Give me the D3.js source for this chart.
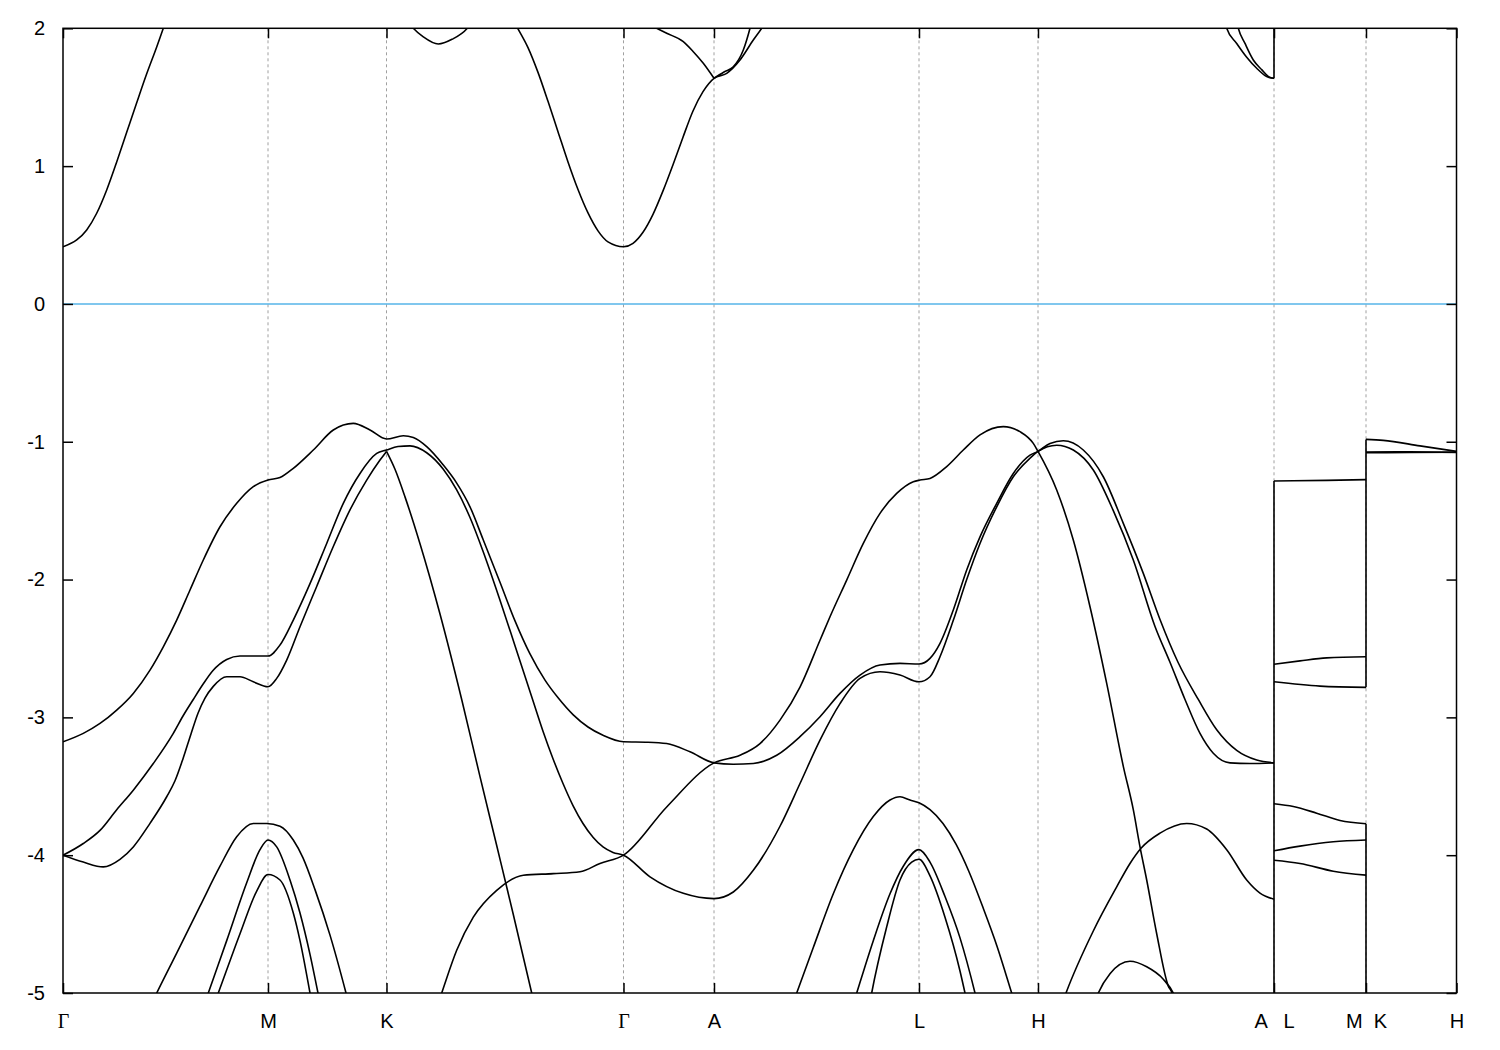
<!DOCTYPE html>
<html><head><meta charset="utf-8">
<script src="https://cdn.jsdelivr.net/npm/d3@7"></script>
<style>
body{margin:0;background:#fff}
</style>
</head><body>
<svg id="chart" width="1500" height="1050"></svg>
<script>
// high-symmetry points along the k-path
const kTicks = [0, 2.05, 3.235, 5.605, 6.51, 8.56, 9.75, 12.11, 13.03, 13.935];
const kLabels = ["Γ","M","K","Γ","A","L","H","A   L","M  K","H"];
const eTicks = [2, 1, 0, -1, -2, -3, -4, -5];
const fermiLevel = [0];
const kRange = [0, 13.935];
const eRange = [-5, 2];

// ---- conduction bands [k, E] ----
const cbGM = [[0,0.415],[0.137,0.464],[0.237,0.537],[0.337,0.658],[0.437,0.827],[0.537,1.03],[0.637,1.245],[0.737,1.46],[0.837,1.67],[0.937,1.865],[1.003,2.0],[1.09,2.17]];
const cbKdip = [[3.42,2.08],[3.503,2.0],[3.60,1.94],[3.753,1.886],[3.89,1.92],[4.043,2.0],[4.12,2.08]];
const cbKGA = [[4.47,2.1],[4.547,2.0],[4.65,1.86],[4.75,1.68],[4.85,1.47],[4.95,1.25],[5.05,1.03],[5.15,0.83],[5.25,0.66],[5.35,0.53],[5.45,0.45],[5.605,0.415],[5.70,0.44],[5.80,0.52],[5.90,0.65],[6.00,0.82],[6.10,1.01],[6.20,1.21],[6.30,1.40],[6.40,1.54],[6.51,1.637],[6.637,1.673],[6.77,1.77],[6.903,1.915],[6.987,2.0],[7.04,2.06]];
const cbTopA = [[5.77,2.06],[5.937,2.0],[6.037,1.964],[6.203,1.903],[6.303,1.83],[6.403,1.746],[6.51,1.637]];
const cbAup = [[6.51,1.637],[6.61,1.683],[6.703,1.72],[6.803,1.842],[6.87,2.0],[6.91,2.12]];
const cbAL1 = [[11.59,2.15],[11.637,2.0],[11.737,1.89],[11.837,1.79],[11.937,1.71],[12.037,1.65],[12.11,1.637]];
const cbAL2 = [[11.71,2.15],[11.753,2.0],[11.82,1.89],[11.903,1.77],[11.987,1.70],[12.07,1.643],[12.11,1.637]];

// ---- valence bands [k, E] ----
const vb1 = [[0,-3.177],[0.203,-3.116],[0.37,-3.044],[0.537,-2.947],[0.703,-2.826],[0.87,-2.657],[1.003,-2.488],[1.137,-2.294],[1.27,-2.076],[1.403,-1.858],[1.57,-1.617],[1.737,-1.447],[1.903,-1.326],[2.05,-1.278],[2.17,-1.26],[2.303,-1.193],[2.503,-1.06],[2.703,-0.915],[2.903,-0.867],[3.07,-0.915],[3.235,-0.98],[3.403,-0.957],[3.503,-0.97],[3.637,-1.036],[3.803,-1.169],[3.937,-1.30],[4.07,-1.472],[4.203,-1.713],[4.37,-2.02],[4.52,-2.3],[4.67,-2.54],[4.82,-2.73],[4.953,-2.86],[5.10,-2.98],[5.25,-3.07],[5.40,-3.13],[5.605,-3.177],[5.85,-3.18],[6.037,-3.19],[6.27,-3.25],[6.51,-3.33],[6.703,-3.34],[6.903,-3.335],[7.137,-3.275],[7.37,-3.14],[7.57,-2.995],[7.77,-2.826],[7.97,-2.693],[8.17,-2.62],[8.37,-2.608],[8.56,-2.613],[8.67,-2.572],[8.77,-2.463],[8.903,-2.221],[9.037,-1.93],[9.17,-1.69],[9.337,-1.447],[9.503,-1.23],[9.67,-1.097],[9.75,-1.07],[9.87,-1.012],[10.003,-0.993],[10.203,-1.06],[10.403,-1.254],[10.603,-1.592],[10.803,-1.955],[10.97,-2.29],[11.15,-2.6],[11.353,-2.87],[11.537,-3.09],[11.737,-3.24],[11.937,-3.31],[12.11,-3.33]];
const vbB = [[0,-4.0],[0.203,-3.915],[0.37,-3.82],[0.537,-3.67],[0.703,-3.528],[0.903,-3.335],[1.103,-3.116],[1.2,-2.99],[1.303,-2.87],[1.40,-2.76],[1.50,-2.66],[1.637,-2.58],[1.77,-2.555],[1.92,-2.555],[2.05,-2.555],[2.17,-2.475],[2.303,-2.294],[2.47,-2.03],[2.637,-1.738],[2.803,-1.447],[2.97,-1.23],[3.137,-1.085],[3.235,-1.06],[3.35,-1.035],[3.47,-1.03],[3.637,-1.08],[3.803,-1.2],[3.937,-1.35],[4.07,-1.55],[4.203,-1.8],[4.37,-2.15],[4.52,-2.48],[4.687,-2.85],[4.80,-3.10],[4.90,-3.30],[5.00,-3.48],[5.10,-3.64],[5.20,-3.77],[5.30,-3.87],[5.40,-3.94],[5.50,-3.98],[5.605,-4.0],[5.87,-4.157],[6.203,-4.277],[6.51,-4.315],[6.703,-4.267],[6.903,-4.11],[7.17,-3.79],[7.37,-3.48],[7.57,-3.165],[7.77,-2.90],[7.97,-2.717],[8.17,-2.669],[8.37,-2.693],[8.56,-2.742],[8.67,-2.705],[8.77,-2.56],[8.903,-2.296],[9.037,-2.0],[9.17,-1.738],[9.337,-1.472],[9.503,-1.254],[9.67,-1.12],[9.75,-1.07],[9.937,-1.025],[10.103,-1.06],[10.303,-1.205],[10.503,-1.50],[10.703,-1.858],[10.92,-2.34],[11.07,-2.6],[11.22,-2.87],[11.37,-3.116],[11.503,-3.26],[11.67,-3.33],[11.87,-3.335],[12.11,-3.33]];
const vbC = [[0,-4.0],[0.203,-4.05],[0.403,-4.085],[0.57,-4.03],[0.703,-3.94],[0.87,-3.769],[1.037,-3.576],[1.12,-3.46],[1.2,-3.30],[1.28,-3.12],[1.35,-2.97],[1.42,-2.86],[1.503,-2.775],[1.637,-2.705],[1.77,-2.705],[1.903,-2.742],[2.05,-2.778],[2.137,-2.717],[2.237,-2.584],[2.37,-2.342],[2.537,-2.05],[2.703,-1.76],[2.87,-1.494],[3.037,-1.278],[3.17,-1.133],[3.235,-1.07]];
const vbCsteep = [[3.235,-1.07],[3.32,-1.2],[3.42,-1.4],[3.57,-1.74],[3.77,-2.25],[3.987,-2.87],[4.17,-3.43],[4.337,-3.93],[4.503,-4.43],[4.687,-5.0],[4.77,-5.25]];
const vbD = [[3.67,-5.25],[3.787,-5.0],[3.937,-4.69],[4.103,-4.45],[4.337,-4.255],[4.603,-4.146],[4.903,-4.134],[5.17,-4.12],[5.37,-4.06],[5.605,-4.0],[6.037,-3.65],[6.51,-3.33],[6.77,-3.275],[6.97,-3.19],[7.17,-3.02],[7.37,-2.78],[7.57,-2.44],[7.67,-2.27],[7.837,-2.004],[8.003,-1.738],[8.17,-1.52],[8.337,-1.375],[8.503,-1.29],[8.57,-1.278],[8.67,-1.266],[8.837,-1.18],[9.003,-1.06],[9.17,-0.95],[9.403,-0.89],[9.57,-0.927],[9.703,-1.012],[9.75,-1.07],[9.937,-1.35],[10.103,-1.713],[10.27,-2.197],[10.437,-2.753],[10.603,-3.355],[10.703,-3.67],[10.77,-3.94],[10.837,-4.18],[10.937,-4.57],[11.053,-4.95],[11.09,-5.0],[11.13,-5.2]];
const vbM1 = [[0.87,-5.1],[0.937,-5.0],[1.137,-4.71],[1.37,-4.37],[1.57,-4.08],[1.737,-3.866],[1.903,-3.77],[2.037,-3.77],[2.17,-3.79],[2.303,-3.89],[2.40,-4.02],[2.52,-4.25],[2.67,-4.58],[2.83,-5.0],[2.89,-5.17]];
const vbM2 = [[1.41,-5.09],[1.453,-5.0],[1.637,-4.62],[1.837,-4.2],[1.97,-3.96],[2.05,-3.89],[2.137,-3.94],[2.27,-4.18],[2.37,-4.42],[2.47,-4.72],[2.55,-5.0],[2.58,-5.105]];
const vbM3 = [[1.51,-5.085],[1.553,-5.0],[1.77,-4.57],[1.937,-4.26],[2.05,-4.14],[2.17,-4.18],[2.303,-4.42],[2.37,-4.62],[2.47,-5.0],[2.50,-5.12]];
const vbL1 = [[7.27,-5.13],[7.337,-5.0],[7.503,-4.67],[7.703,-4.28],[7.903,-3.96],[8.103,-3.72],[8.27,-3.60],[8.37,-3.576],[8.47,-3.6],[8.56,-3.62],[8.67,-3.67],[8.80,-3.77],[8.93,-3.92],[9.06,-4.12],[9.20,-4.38],[9.34,-4.66],[9.487,-5.0],[9.53,-5.1]];
const vbL2 = [[7.89,-5.11],[7.937,-5.0],[8.103,-4.62],[8.27,-4.28],[8.403,-4.08],[8.56,-3.96],[8.67,-4.05],[8.82,-4.3],[8.97,-4.6],[9.12,-5.0],[9.16,-5.12]];
const vbL3 = [[8.05,-5.15],[8.087,-5.0],[8.237,-4.52],[8.37,-4.18],[8.487,-4.05],[8.56,-4.03],[8.67,-4.15],[8.82,-4.45],[8.97,-4.84],[9.02,-5.0],[9.05,-5.1]];
const vbHrise = [[9.97,-5.12],[10.03,-5.0],[10.303,-4.55],[10.537,-4.23],[10.67,-4.06],[10.78,-3.95],[10.97,-3.84],[11.237,-3.77],[11.437,-3.81],[11.637,-3.96],[11.837,-4.18],[11.97,-4.275],[12.11,-4.32]];
const vbArc = [[10.31,-5.08],[10.353,-5.0],[10.47,-4.86],[10.67,-4.77],[10.837,-4.81],[11.003,-4.9],[11.103,-5.0],[11.15,-5.08]];

// ---- L-M segment ----
const lm1 = [[12.11,-1.285],[12.637,-1.28],[13.03,-1.275]];
const lm2 = [[12.11,-2.615],[12.37,-2.59],[12.637,-2.568],[13.03,-2.56]];
const lm3 = [[12.11,-2.742],[12.57,-2.773],[13.03,-2.782]];
const lm4 = [[12.11,-3.627],[12.303,-3.647],[12.537,-3.695],[12.77,-3.748],[13.03,-3.772]];
const lm5 = [[12.11,-3.968],[12.37,-3.934],[12.703,-3.903],[13.03,-3.89]];
const lm6 = [[12.11,-4.037],[12.37,-4.06],[12.703,-4.116],[13.03,-4.145]];
// ---- K-H segment ----
const kh1 = [[13.03,-0.983],[13.203,-0.99],[13.57,-1.03],[13.935,-1.07]];
const kh2 = [[13.03,-1.075],[13.47,-1.073],[13.935,-1.078]];
const kh3 = [[13.03,-1.08],[13.47,-1.078],[13.935,-1.075]];

// vertical connections where the path is discontinuous [k, E1, E2]
const jumps = [[12.11,1.637,2.3],[12.11,-1.285,-5.3],[13.03,-0.983,-2.782],[13.03,-3.772,-5.3]];

const bands = [cbGM,cbKdip,cbKGA,cbTopA,cbAup,cbAL1,cbAL2,
  vb1,vbB,vbC,vbCsteep,vbD,vbM1,vbM2,vbM3,vbL1,vbL2,vbL3,vbHrise,vbArc,
  lm1,lm2,lm3,lm4,lm5,lm6,kh1,kh2,kh3];

const svg = d3.select("#chart");
svg.append("rect").attr("width",1500).attr("height",1050).attr("fill","#fff");
const plot = {left:63, right:1456.5, top:28.3, bottom:993};
const x = d3.scaleLinear().domain(kRange).range([plot.left, plot.right]);
const y = d3.scaleLinear().domain(eRange).range([plot.bottom, plot.top]);

svg.append("clipPath").attr("id","clip").append("rect")
  .attr("x",plot.left).attr("y",plot.top)
  .attr("width",plot.right-plot.left).attr("height",plot.bottom-plot.top);

// grid
svg.append("g").selectAll("line").data(kTicks.slice(1,-1)).join("line")
  .attr("x1",d=>x(d)).attr("x2",d=>x(d)).attr("y1",plot.top).attr("y2",plot.bottom)
  .attr("stroke","#a0a0a0").attr("stroke-width",1).attr("stroke-dasharray","3,3");

// fermi level
svg.append("g").selectAll("line").data(fermiLevel).join("line")
  .attr("x1",plot.left).attr("x2",plot.right).attr("y1",d=>y(d)).attr("y2",d=>y(d))
  .attr("stroke","#56b4e9").attr("stroke-width",1.5);

const g = svg.append("g").attr("clip-path","url(#clip)");
const line = d3.line().x(d=>x(d[0])).y(d=>y(d[1])).curve(d3.curveMonotoneX);
g.selectAll("path.band").data(bands).join("path").attr("class","band")
  .attr("d",line).attr("fill","none").attr("stroke","#000").attr("stroke-width",1.6)
  .attr("stroke-linejoin","round");
g.selectAll("line.jump").data(jumps).join("line").attr("class","jump")
  .attr("x1",d=>x(d[0])).attr("x2",d=>x(d[0])).attr("y1",d=>y(d[1])).attr("y2",d=>y(d[2]))
  .attr("stroke","#000").attr("stroke-width",1.6);

// axes
const fontSize = 20;
const sans = "'Liberation Sans',Arial,sans-serif";
const ax = svg.append("g").attr("transform",`translate(${plot.left},0)`)
  .call(d3.axisLeft(y).tickValues(eTicks).tickFormat(d=>String(d)).tickSizeInner(-10).tickSizeOuter(0).tickPadding(18));
const axR = svg.append("g").attr("transform",`translate(${plot.right},0)`)
  .call(d3.axisRight(y).tickValues(eTicks).tickFormat("").tickSizeInner(-10).tickSizeOuter(0));
const axB = svg.append("g").attr("transform",`translate(0,${plot.bottom})`)
  .call(d3.axisBottom(x).tickValues(kTicks).tickFormat((d,i)=>kLabels[i]).tickSizeInner(-10).tickSizeOuter(0).tickPadding(21));
const axT = svg.append("g").attr("transform",`translate(0,${plot.top})`)
  .call(d3.axisTop(x).tickValues(kTicks).tickFormat("").tickSizeInner(-10).tickSizeOuter(0));
[ax,axR,axB,axT].forEach(a=>{
  a.select(".domain").remove();
  a.selectAll(".tick line").attr("stroke","#000").attr("stroke-width",1.5);
  a.selectAll("text").attr("fill","#000").style("font-size",fontSize+"px")
   .style("font-family",sans).style("white-space","pre");
});
axB.selectAll(".tick text").each(function(d,i){
  if(kLabels[i]==="Γ") d3.select(this).style("font-family","'Liberation Serif','Times New Roman',serif");
});

// border
svg.append("rect").attr("x",plot.left).attr("y",plot.top)
  .attr("width",plot.right-plot.left).attr("height",plot.bottom-plot.top)
  .attr("fill","none").attr("stroke","#000").attr("stroke-width",1.5);
</script>
</body></html>
